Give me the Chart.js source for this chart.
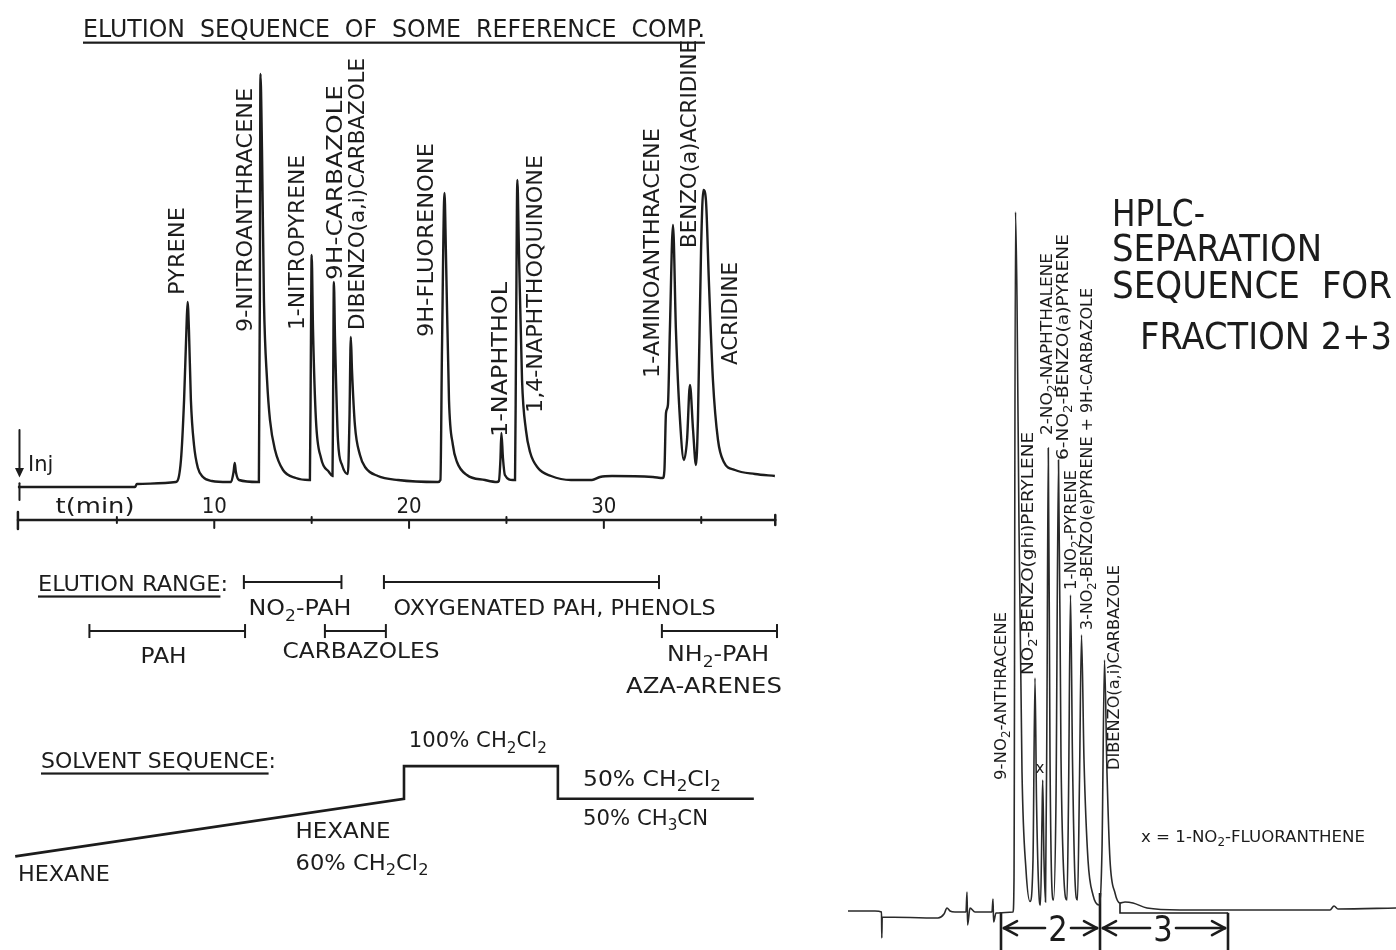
<!DOCTYPE html>
<html>
<head>
<meta charset="utf-8">
<script src="https://cdn.jsdelivr.net/npm/chart.js@4.4.1/dist/chart.umd.min.js"></script>
<style>
  html, body { margin: 0; padding: 0; background: #fff; }
  #wrap { position: relative; width: 1396px; height: 950px; overflow: hidden; background: #fff; }
  .box { position: absolute; top: 0; height: 950px; }
</style>
</head>
<body>
<div id="wrap">
  <div class="box" style="left:0;width:800px"><canvas id="leftChart"></canvas></div>
  <div class="box" style="left:800px;width:596px"><canvas id="rightChart"></canvas></div>
</div>
<script>
const INK = '#1c1c1c';
const FONT = "'DejaVu Sans', 'Liberation Sans', sans-serif";

// ---- left: reference compounds, time in min, signal in arbitrary units ----
const leftTime = [
  -0.08, 5.93, 6.03,
  8.03, 8.29, 8.45, 8.57, 8.63, 8.70, 8.80, 8.96, 9.16, 9.42, 9.88,          // pyrene
  10.70, 10.86, 10.99, 11.05, 11.11, 11.27,                                   // small peak
  12.24, 12.29, 12.34, 12.37, 12.45, 12.55, 12.71, 12.86, 13.12, 13.53, 14.19, // 9-nitroanthracene
  14.86, 14.91, 14.96, 15.00, 15.07, 15.22, 15.48, 15.89, 16.07,              // 1-nitropyrene
  16.10, 16.14, 16.20, 16.35, 16.56, 16.86,                                   // 9H-carbazole
  16.94, 17.01, 17.07, 17.22, 17.48, 17.74, 18.40, 19.43, 21.48,              // dibenzo(a,i)carbazole
  21.61, 21.69, 21.82, 21.89, 22.05, 22.25, 22.46, 22.97, 23.90, 24.51,       // 9H-fluorenone
  24.61, 24.69, 24.74, 24.82, 24.92, 25.33,                                   // 1-naphthol
  25.44, 25.49, 25.56, 25.64, 25.80, 26.00, 26.21, 26.62, 27.29, 28.31,
  29.39, 29.80, 30.42, 32.52, 33.03,                                          // 1,4-naphthoquinone
  33.11, 33.19, 33.29, 33.39, 33.55, 33.70, 33.91, 34.11,                     // 1-aminoanthracene
  34.27, 34.42, 34.58, 34.73,
  34.83, 34.99, 35.11, 35.24, 35.39, 35.60, 35.86, 36.16, 36.73, 37.76, 38.78  // acridines
];
const leftSignal = [
  0.25, 0.25, 1,
  1.5, 7, 22, 39.5, 46.5, 39.5, 22, 10.75, 5, 2.75, 1.75,
  1.5, 1.5, 4, 6.25, 4, 2,
  1.5, 1.5, 47, 103.5, 84.5, 47, 27, 17, 9.5, 4.5, 2.5,
  2, 2, 34.5, 58.25, 39.5, 17, 7.5, 4, 3,
  22, 51.5, 37, 12, 5.75, 3.5,
  17, 37.75, 29.5, 15.75, 8.25, 5.25, 3, 2, 1.5,
  2, 34.5, 73.75, 59.5, 22, 10.75, 6.5, 3.25, 2, 1.5,
  1.75, 7, 13.75, 7.5, 3.25, 2,
  2, 34.5, 77, 59.5, 27, 14.5, 9, 5, 3, 2,
  2, 2.75, 3, 2.75, 2.5,
  4.5, 18.75, 20.75, 39.5, 65.75, 39.5, 17, 7,
  12, 25.75, 14.5, 5.75,
  17, 59.5, 74.5, 72, 52, 27, 12, 6.5, 4.5, 3.5, 3
];

const leftPeakNames = ['PYRENE', '9-NITROANTHRACENE', '1-NITROPYRENE', '9H-CARBAZOLE',
  'DIBENZO(a,i)CARBAZOLE', '9H-FLUORENONE', '1-NAPHTHOL', '1,4-NAPHTHOQUINONE',
  '1-AMINOANTHRACENE', 'BENZO(a)ACRIDINE', 'ACRIDINE'];
const leftLabelTime = [8.03, 11.52, 14.19, 16.14, 17.27, 20.84, 24.61, 26.41, 32.42, 34.32, 36.42];
const leftLabelSignal = [48.25, 39, 39.5, 52, 39.5, 37.75, 12.75, 18.75, 27.5, 60, 30.75];
const leftLabelLen = [88, 244, 175, 195, 272, 194, 155, 258, 250, 208, 103];

const timeTicks = [10, 20, 30];
const minorTicks = [5, 15, 25, 35];

// elution ranges (min)
const rangeNames = ['NO_2-PAH', 'OXYGENATED PAH, PHENOLS', 'PAH', 'CARBAZOLES', 'NH_2-PAH'];
const rangeStart = [11.52, 18.71, 3.59, 15.68, 32.98];
const rangeEnd = [16.53, 32.83, 11.58, 18.81, 38.89];
const rangeRow = [1, 1, 2, 2, 2];

// solvent programme (schematic strength levels)
const solventTime = [-0.22, 19.74, 19.74, 27.64, 27.64, 37.7];
const solventLevel = [0, 6, 9.4, 9.4, 6, 6];

// ---- right: fraction 2+3 ----
const rightTime = [0, 2.7, 3.35, 3.38, 3.42, 9.0, 9.6, 9.9, 10.2, 10.7, 11.8, 11.9, 11.96, 12.2, 12.7,
  14.4, 14.5, 14.56, 14.8, 16.5,
  16.6, 16.75, 16.9, 17.1, 17.4, 17.8, 18.2,
  18.5, 18.7, 18.85, 19.1, 19.25,
  19.4, 19.47, 19.6, 19.75,
  19.9, 20.03, 20.2, 20.4, 20.55,
  20.8, 21.05, 21.3, 21.6, 21.9,
  22.05, 22.25, 22.45, 22.7, 22.95,
  23.15, 23.35, 23.6, 24.0, 24.5, 25.1,
  25.4, 25.65, 25.9, 26.2, 26.7, 27.2,
  27.7, 28.5, 29.9, 33.2, 48.2, 48.6, 49.0, 54.8];
const rightSignal = [0.14, 0.14, 0, -3.71, -0.71, -0.86, -0.29, 0.57, 0.14, 0, 0, 2.86, -1.86, 0.57, 0,
  0, 1.86, -1.43, -0.14, 0,
  4.57, 100, 87.43, 55, 20, 6, 1.5,
  7.43, 33.43, 16, 2.43, 1,
  13.14, 18.86, 7.43, 1.43,
  30.29, 66.29, 22.14, 3.14, 1.71,
  16, 64.57, 22.14, 4.57, 1.71,
  16, 45.29, 21.71, 4.57, 1.71,
  18.86, 39.57, 21.71, 7.43, 2.43, 1,
  8.86, 36, 19.86, 7.43, 2.71, 1.29,
  1.43, 1.29, 0.57, 0.29, 0.29, 0.86, 0.43, 0.57];

const rightPeakNames = ['9-NO_2-ANTHRACENE', 'NO_2-BENZO(ghi)PERYLENE', '2-NO_2-NAPHTHALENE',
  '6-NO_2-BENZO(a)PYRENE', '1-NO_2-PYRENE', '3-NO_2-BENZO(e)PYRENE + 9H-CARBAZOLE', 'DIBENZO(a,i)CARBAZOLE'];
const rightLabelTime = [15.2, 17.9, 19.8, 21.4, 22.2, 23.8, 26.5];
const rightLabelSignal = [18.86, 33.86, 68.14, 64.57, 46, 40.29, 20.29];
const rightLabelLen = [168, 243, 182, 226, 120, 342, 205];

const fractionBounds = [15.3, 25.2, 38.0];
const fractionBoundTop = [0, 2.7, -0.1];
const fractionNames = ['2', '3'];
const fractionLabelTime = [21.0, 31.5];
const collectTime = [27.2, 27.2, 38.0];
const collectSignal = [1.3, -0.14, -0.14];

// ---------- helpers ----------
function line(ctx, x1, y1, x2, y2) {
  ctx.beginPath(); ctx.moveTo(x1, y1); ctx.lineTo(x2, y2); ctx.stroke();
}

// text with "_x" subscripts; y is the middle of the capitals
function drawRich(ctx, str, x, y, size, opts = {}) {
  const parts = [];
  for (let i = 0; i < str.length; i++) {
    if (str[i] === '_' && i + 1 < str.length) { parts.push({ t: str[i + 1], sub: true }); i++; }
    else if (parts.length && !parts[parts.length - 1].sub) parts[parts.length - 1].t += str[i];
    else parts.push({ t: str[i], sub: false });
  }
  const subSize = size * 0.72;
  let w = 0;
  for (const p of parts) {
    ctx.font = `${p.sub ? subSize : size}px ${FONT}`;
    p.w = ctx.measureText(p.t).width; w += p.w;
  }
  const sx = opts.fit ? opts.fit / w : (opts.sx || 1);
  const start = opts.align === 'center' ? -w / 2 : opts.align === 'right' ? -w : 0;
  const base = size * 0.365;
  ctx.save();
  ctx.translate(x, y);
  if (opts.rot) ctx.rotate(opts.rot);
  ctx.scale(sx, 1);
  ctx.fillStyle = INK; ctx.textAlign = 'left'; ctx.textBaseline = 'alphabetic';
  let cx = start;
  for (const p of parts) {
    ctx.font = `${p.sub ? subSize : size}px ${FONT}`;
    ctx.fillText(p.t, cx, p.sub ? base + size * 0.26 : base);
    cx += p.w;
  }
  if (opts.underline) {
    let uw = w;
    if (str.endsWith(':')) { ctx.font = `${size}px ${FONT}`; uw -= ctx.measureText(':').width; }
    ctx.fillRect(start, base + size * 0.2, uw, 2.2);
  }
  ctx.restore();
}

function arrow(ctx, x1, y, x2) {
  line(ctx, x1, y, x2, y);
  const d = Math.sign(x2 - x1);
  line(ctx, x2, y, x2 - d * 13, y - 7);
  line(ctx, x2, y, x2 - d * 13, y + 7);
}

// ---------- left chart ----------
const leftDecor = {
  id: 'leftDecor',
  afterDatasetsDraw(chart) {
    const { ctx } = chart;
    const xs = chart.scales.x, ys = chart.scales.ySig, yr = chart.scales.yRow, yv = chart.scales.ySolv;
    const X = t => xs.getPixelForValue(t);
    const S = v => ys.getPixelForValue(v);
    ctx.save();
    ctx.strokeStyle = INK; ctx.fillStyle = INK; ctx.lineCap = 'round';

    drawRich(ctx, 'ELUTION  SEQUENCE  OF  SOME  REFERENCE  COMP.', 83, 28, 24, { fit: 622, underline: true });

    // time axis
    const ay = S(-8);
    ctx.lineWidth = 2.5;
    line(ctx, X(-0.08), ay, X(38.8), ay);
    line(ctx, X(-0.08), ay - 8, X(-0.08), ay + 9);
    line(ctx, X(38.8), ay - 5, X(38.8), ay + 5);
    ctx.lineWidth = 2;
    timeTicks.forEach(t => {
      line(ctx, X(t), ay, X(t), ay + 8);
      drawRich(ctx, String(t), X(t), S(-4.25), 22, { align: 'center', sx: 0.9 });
    });
    minorTicks.forEach(t => line(ctx, X(t), ay - 3, X(t), ay + 3));
    drawRich(ctx, 't(min)', X(3.88), S(-4.25), 22, { align: 'center', fit: 79 });

    // injection mark
    ctx.lineWidth = 2;
    line(ctx, X(0), S(14.5), X(0), S(4));
    ctx.beginPath();
    ctx.moveTo(X(0) - 4.5, S(5)); ctx.lineTo(X(0) + 4.5, S(5)); ctx.lineTo(X(0), S(2.6)); ctx.closePath(); ctx.fill();
    line(ctx, X(0), S(1.2), X(0), S(-3));
    drawRich(ctx, 'Inj', X(0.44), S(6.25), 21);

    // peak names
    leftPeakNames.forEach((n, i) => {
      drawRich(ctx, n, X(leftLabelTime[i]), S(leftLabelSignal[i]), 22, { rot: -Math.PI / 2, fit: leftLabelLen[i] });
    });

    // elution range labels
    drawRich(ctx, 'ELUTION RANGE:', 38, 583, 22, { fit: 190, underline: true });
    const rl = [
      [14.4, 1.51, 103], [27.47, 1.51, 322], [7.40, 2.49, 46], [17.53, 2.39, 157], [35.86, 2.45, 102]
    ];
    rangeNames.forEach((n, i) => drawRich(ctx, n, X(rl[i][0]), yr.getPixelForValue(rl[i][1]), 22, { align: 'center', fit: rl[i][2] }));
    drawRich(ctx, 'AZA-ARENES', X(35.14), yr.getPixelForValue(3.1), 22, { align: 'center', fit: 156 });

    // solvent labels
    drawRich(ctx, 'SOLVENT SEQUENCE:', 41, 760, 22, { fit: 235, underline: true });
    const sl = [
      ['100% CH_2Cl_2', 19.99, 12.2, 138], ['50% CH_2Cl_2', 28.93, 8.2, 138], ['50% CH_3CN', 28.93, 4.14, 125],
      ['HEXANE', 14.17, 2.78, 95], ['60% CH_2Cl_2', 14.17, -0.55, 133], ['HEXANE', -0.08, -1.7, 92]
    ];
    sl.forEach(s => drawRich(ctx, s[0], X(s[1]), yv.getPixelForValue(s[2]), 22, { fit: s[3] }));
    ctx.restore();
  }
};

const rangeSets = rangeNames.map((n, i) => ({
  label: n,
  data: [{ x: rangeStart[i], y: rangeRow[i] }, { x: rangeEnd[i], y: rangeRow[i] }],
  yAxisID: 'yRow',
  borderColor: INK, borderWidth: 2,
  pointStyle: 'line', pointRotation: 90, pointRadius: 7,
  pointBorderColor: INK, pointBorderWidth: 2
}));

new Chart(document.getElementById('leftChart'), {
  type: 'line',
  data: {
    datasets: [
      {
        label: 'reference compounds',
        data: leftTime.map((t, i) => ({ x: t, y: leftSignal[i] })),
        yAxisID: 'ySig',
        borderColor: INK, borderWidth: 2.4, pointRadius: 0,
        cubicInterpolationMode: 'monotone'
      },
      ...rangeSets,
      {
        label: 'solvent',
        data: solventTime.map((t, i) => ({ x: t, y: solventLevel[i] })),
        yAxisID: 'ySolv',
        borderColor: INK, borderWidth: 2.6, pointRadius: 0, tension: 0
      }
    ]
  },
  options: {
    responsive: true, maintainAspectRatio: false, animation: false, devicePixelRatio: 1,
    layout: { padding: 0, autoPadding: false },
    plugins: { legend: { display: false }, tooltip: { enabled: false } },
    scales: {
      x: { type: 'linear', min: -1.0, max: 40.07, display: false },
      ySig: { type: 'linear', min: -115.5, max: 122, display: false },
      yRow: { type: 'linear', min: -10.88, max: 8.51, reverse: true, display: false },
      ySolv: { type: 'linear', min: -9.76, max: 89.24, display: false }
    }
  },
  plugins: [leftDecor]
});

// ---------- right chart ----------
const rightDecor = {
  id: 'rightDecor',
  afterDatasetsDraw(chart) {
    const { ctx } = chart;
    const xs = chart.scales.x, ys = chart.scales.y;
    const X = t => xs.getPixelForValue(t);
    const S = v => ys.getPixelForValue(v);
    ctx.save();
    ctx.strokeStyle = INK; ctx.fillStyle = INK; ctx.lineCap = 'round';

    drawRich(ctx, 'HPLC-', 312, 212, 37, { fit: 93 });
    drawRich(ctx, 'SEPARATION', 312, 247, 37, { fit: 210 });
    drawRich(ctx, 'SEQUENCE  FOR', 312, 284, 37, { fit: 280 });
    drawRich(ctx, 'FRACTION 2+3', 340, 335, 37, { fit: 252 });

    rightPeakNames.forEach((n, i) => {
      drawRich(ctx, n, X(rightLabelTime[i]), S(rightLabelSignal[i]), 16, { rot: -Math.PI / 2, fit: rightLabelLen[i] });
    });
    drawRich(ctx, 'x', X(19.2), S(20.57), 15, { align: 'center' });
    drawRich(ctx, 'x = 1-NO_2-FLUORANTHENE', 341, 836, 16, { fit: 224 });

    // fraction arrows
    const ay = S(-2.29);
    ctx.lineWidth = 2.6;
    fractionNames.forEach((n, i) => {
      const a = X(fractionBounds[i]), b = X(fractionBounds[i + 1]), c = X(fractionLabelTime[i]);
      drawRich(ctx, n, c, ay, 36, { align: 'center', sx: 0.85 });
      arrow(ctx, c - 13, ay, a + 3);
      arrow(ctx, c + 13, ay, b - 3);
    });
    ctx.restore();
  }
};

const boundSets = fractionBounds.map((t, i) => ({
  label: 'cut ' + i,
  data: [{ x: t, y: fractionBoundTop[i] }, { x: t, y: -6 }],
  borderColor: INK, borderWidth: 2.6, pointRadius: 0
}));

new Chart(document.getElementById('rightChart'), {
  type: 'line',
  data: {
    datasets: [
      {
        label: 'fraction 2+3',
        data: rightTime.map((t, i) => ({ x: t, y: rightSignal[i] })),
        borderColor: '#2a2a2a', borderWidth: 1.6, pointRadius: 0,
        cubicInterpolationMode: 'monotone'
      },
      ...boundSets,
      {
        label: 'collect',
        data: collectTime.map((t, i) => ({ x: t, y: collectSignal[i] })),
        borderColor: INK, borderWidth: 1.6, pointRadius: 0
      }
    ]
  },
  options: {
    responsive: true, maintainAspectRatio: false, animation: false, devicePixelRatio: 1,
    layout: { padding: 0, autoPadding: false },
    plugins: { legend: { display: false }, tooltip: { enabled: false } },
    scales: {
      x: { type: 'linear', min: -4.8, max: 54.8, display: false },
      y: { type: 'linear', min: -5.43, max: 130.29, display: false }
    }
  },
  plugins: [rightDecor]
});
</script>
</body>
</html>
